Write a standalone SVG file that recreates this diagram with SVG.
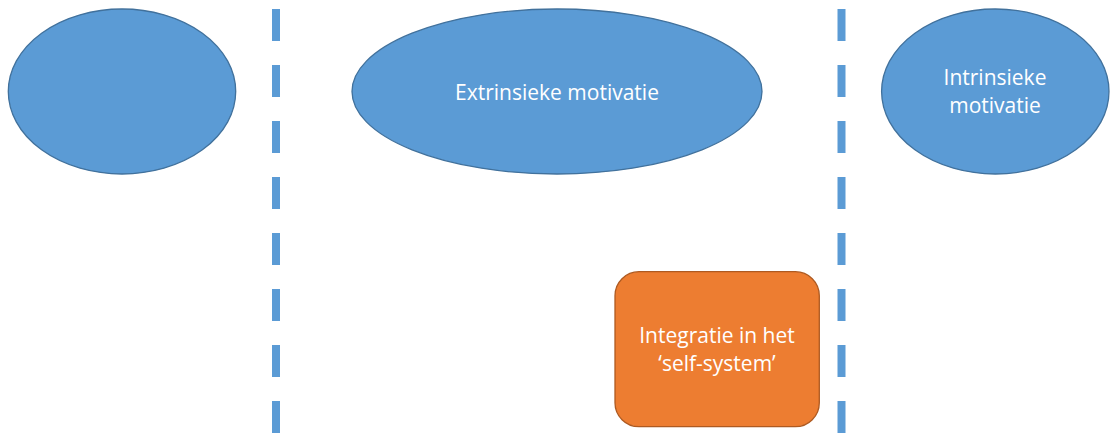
<svg xmlns="http://www.w3.org/2000/svg" width="1110" height="433" viewBox="0 0 1110 433">
<style>
.blue{fill:#5B9BD5;stroke:#41719C;stroke-width:1.3}
.orange{fill:#ED7D31;stroke:#AE5A21;stroke-width:1.3}
.sep{stroke:#5B9BD5;stroke-width:8;stroke-dasharray:32 24;fill:none}
.lbl{font-family:"Open Sans","Liberation Sans",sans-serif;font-size:21px;fill:#FFFFFF;text-anchor:middle}
</style>
<rect width="1110" height="433" fill="#FFFFFF"/>
<g id="connectors">
<line class="sep" x1="276" y1="9" x2="276" y2="433"/>
<line class="sep" x1="841.5" y1="9" x2="841.5" y2="433"/>
</g>
<g id="node-left">
<ellipse class="blue" cx="122" cy="91.5" rx="113.7" ry="82.5"/>
</g>
<g id="node-extrinsiek">
<ellipse class="blue" cx="557" cy="91.5" rx="205" ry="82.5"/>
<text class="lbl" x="557" y="100">Extrinsieke motivatie</text>
</g>
<g id="node-intrinsiek">
<ellipse class="blue" cx="995.3" cy="91.5" rx="113.7" ry="82.5"/>
<text class="lbl" x="995" y="85">Intrinsieke</text>
<text class="lbl" x="995" y="113">motivatie</text>
</g>
<g id="node-integratie">
<rect class="orange" x="615" y="271.7" width="204.3" height="155" rx="24" ry="24"/>
<text class="lbl" x="717" y="343">Integratie in het</text>
<text class="lbl" x="717" y="371">‘self-system’</text>
</g>
</svg>
